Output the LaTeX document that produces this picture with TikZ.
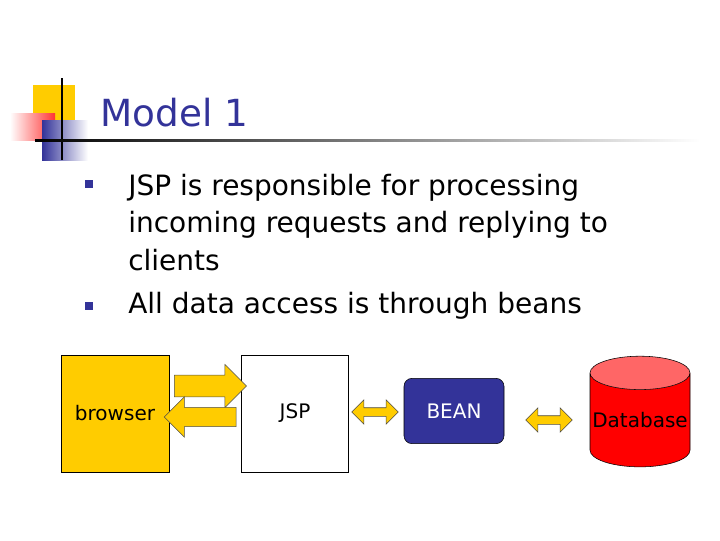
\documentclass[tikz,border=0pt]{standalone}
\usepackage{fontspec}
\setmainfont{DejaVu Sans}
\usetikzlibrary{positioning, shapes.geometric, shapes.arrows}
\definecolor{navy}{HTML}{333399}
\definecolor{gold}{HTML}{FFCC00}
\begin{document}
\begin{tikzpicture}[x=0.75pt, y=-0.75pt,
  box/.style={rectangle, draw, thin, minimum width=80pt, minimum height=88pt, font=\fontsize{15}{18}\selectfont},
  fatarrow/.style={single arrow, draw=black!70, fill=gold, thin, single arrow head extend=8pt,
    minimum height=54pt, inner xsep=0pt, inner ysep=8pt},
  twoway/.style={double arrow, draw=black!70, fill=gold, thin, double arrow head extend=6pt,
    minimum height=35pt, inner xsep=0pt, inner ysep=3pt},
  bullet/.style={fill=navy, minimum size=6pt, inner sep=0pt},
  item/.style={anchor=north west, align=left, text=black, inner sep=0pt,
    font=\fontsize{21}{28}\selectfont}
]
  \useasboundingbox (0,0) rectangle (720,540);
  % Logo
  \fill[gold] (33,85) rectangle (75,127);
  \shade[left color=white, right color=red!80] (10,113) rectangle (55,140);
  \shade[left color=navy, right color=white] (42,120) rectangle (88,160);
  \draw[thick] (62,78) -- (62,160);
  \shade[left color=black, right color=white] (35,139) rectangle (700,141);
  % Title
  \node[anchor=base west, inner sep=0pt, text=navy, font=\fontsize{28}{34}\selectfont] (title) at (100,126) {Model 1};
  % Bullets
  \node[item] (item1) at (128,174) {JSP is responsible for processing\\incoming requests and replying to\\clients};
  \node[item] (item2) at (128,292) {All data access is through beans};
  \node[bullet] (dot1) at (89,184) {};
  \node[bullet] (dot2) at (89,306) {};
  % Diagram
  \node[box, fill=gold, minimum width=81pt] (browser) at (115,413.5) {browser};
  \node[box, fill=white, minimum width=80pt] (jsp) at (295,413.5) {JSP};
  \node[box, fill=navy, text=white, rounded corners=6pt, minimum width=75pt, minimum height=49pt] (bean) at (454,411) {BEAN};
  \node[cylinder, shape border rotate=90, aspect=0.35, draw, thin, cylinder uses custom fill,
    cylinder body fill=red, cylinder end fill=red!60, minimum width=75pt, minimum height=83pt,
    inner sep=0pt, font=\fontsize{15}{18}\selectfont] (db) at (640,420) {Database};
  \node[fatarrow] (req) at (205,386) {};
  \node[fatarrow, shape border rotate=180, inner ysep=7pt] (resp) at (205,417) {};
  \node[twoway] (jb) at (375,412) {};
  \node[twoway] (bd) at (549,420) {};
\end{tikzpicture}
\end{document}
